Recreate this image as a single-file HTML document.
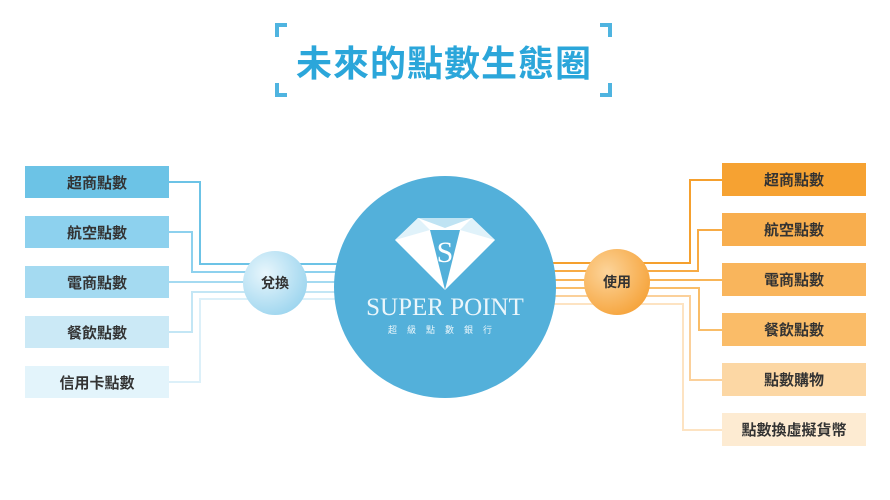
<!DOCTYPE html>
<html><head><meta charset="utf-8"><style>
body{margin:0;background:#fff;}
svg{display:block}
text{font-family:"Liberation Sans","Noto Sans CJK TC",sans-serif;}
text.serif{font-family:"Liberation Serif","Noto Serif CJK SC",serif;}
</style></head><body>
<svg width="890" height="500" viewBox="0 0 890 500" xmlns="http://www.w3.org/2000/svg">
<defs>
<radialGradient id="gb" cx="35%" cy="35%" r="70%"><stop offset="0" stop-color="#e8f6fc"/><stop offset="1" stop-color="#9fd6ef"/></radialGradient>
<radialGradient id="go" cx="35%" cy="35%" r="70%"><stop offset="0" stop-color="#fcd49a"/><stop offset="1" stop-color="#f6a53e"/></radialGradient>
</defs>
<g fill="none" stroke="#4fb4e0" stroke-width="4">
<path d="M287 25 H277 V37"/><path d="M277 83 V95 H287"/>
<path d="M600 25 H610 V37"/><path d="M610 83 V95 H600"/>
</g>
<text x="444" y="76" text-anchor="middle" font-size="36" font-weight="bold" fill="#2ba6da" letter-spacing="1">未來的點數生態圈</text>

<g fill="none" stroke-width="2">
<path d="M169 182 H200 V264 H345" stroke="#6cc3e6"/>
<path d="M169 232 H192 V272 H340" stroke="#8dd1ee"/>
<path d="M169 282 H338" stroke="#a4daf1"/>
<path d="M169 332 H192 V292 H338" stroke="#c3e6f5"/>
<path d="M169 382 H200 V299 H340" stroke="#dcf0f9"/>
</g>
<g fill="none" stroke-width="2">
<path d="M722 180 H690 V263 H550" stroke="#f5a02e"/>
<path d="M722 230 H698 V271 H552" stroke="#f7ab45"/>
<path d="M722 280 H553" stroke="#f8b558"/>
<path d="M722 330 H699 V288 H553" stroke="#f9bd68"/>
<path d="M722 380 H690 V296 H552" stroke="#fbd09a"/>
<path d="M722 430 H683 V304 H550" stroke="#fde3c2"/>
</g>

<g font-size="15" font-weight="bold" fill="#333" text-anchor="middle">
<rect x="25" y="166" width="144" height="32" fill="#6cc3e6"/><text x="97" y="188">超商點數</text>
<rect x="25" y="216" width="144" height="32" fill="#8dd1ee"/><text x="97" y="238">航空點數</text>
<rect x="25" y="266" width="144" height="32" fill="#a4daf1"/><text x="97" y="288">電商點數</text>
<rect x="25" y="316" width="144" height="32" fill="#cbe9f6"/><text x="97" y="338">餐飲點數</text>
<rect x="25" y="366" width="144" height="32" fill="#e3f4fb"/><text x="97" y="388">信用卡點數</text>
</g>
<g font-size="15" font-weight="bold" fill="#333" text-anchor="middle">
<rect x="722" y="163" width="144" height="33" fill="#f6a232"/><text x="794" y="185">超商點數</text>
<rect x="722" y="213" width="144" height="33" fill="#f8ae4e"/><text x="794" y="235">航空點數</text>
<rect x="722" y="263" width="144" height="33" fill="#f9b55c"/><text x="794" y="285">電商點數</text>
<rect x="722" y="313" width="144" height="33" fill="#fabc68"/><text x="794" y="335">餐飲點數</text>
<rect x="722" y="363" width="144" height="33" fill="#fcd7a4"/><text x="794" y="385">點數購物</text>
<rect x="722" y="413" width="144" height="33" fill="#fdebd2"/><text x="794" y="435">點數換虛擬貨幣</text>
</g>

<circle cx="275" cy="283" r="32" fill="url(#gb)"/>
<text x="275" y="288" font-size="14" font-weight="bold" fill="#333" text-anchor="middle">兌換</text>
<circle cx="617" cy="282" r="33" fill="url(#go)"/>
<text x="617" y="287" font-size="14" font-weight="bold" fill="#333" text-anchor="middle">使用</text>

<circle cx="445" cy="287" r="111" fill="#53b0da"/>
<g>
<polygon points="395,240 418,218 472,218 495,240 445,290" fill="#ffffff"/>
<polygon points="418,218 472,218 445,228" fill="#bfe3f3"/>
<polygon points="430,230 460,230 445,290" fill="#53b0da"/>
<polygon points="418,218 430,230 395,240" fill="#e0f2fa"/>
<polygon points="472,218 460,230 495,240" fill="#e0f2fa"/>
<text class="serif" x="445" y="262" font-size="30" fill="#fff" text-anchor="middle">S</text>
</g>
<text class="serif" x="445" y="315" font-size="25" fill="#eaf6fb" text-anchor="middle">SUPER POINT</text>
<text x="445" y="333" font-size="9" fill="#eaf6fb" text-anchor="middle" letter-spacing="10">超級點數銀行</text>
</svg>
</body></html>
